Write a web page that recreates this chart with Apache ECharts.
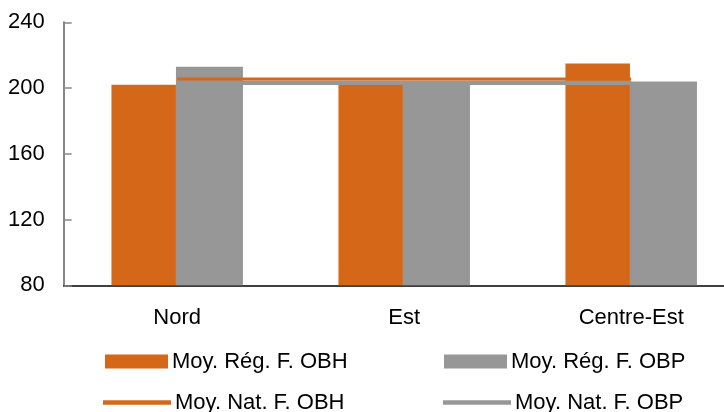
<!DOCTYPE html>
<html><head><meta charset="utf-8">
<script src="https://cdn.jsdelivr.net/npm/echarts@6/dist/echarts.min.js"></script>
<style>html,body{margin:0;padding:0;background:#fff;overflow:hidden}#c{width:760px;height:412px}</style>
</head><body><div id="c"></div>
<script>
const categories = ['Nord', 'Est', 'Centre-Est'];
const regOBH = [202, 203, 215];
const regOBP = [213, 203, 204];
const natOBH = [205.5, 205.5, 205.5];
const natOBP = [203.3, 203.3, 203.3];
const seriesNames = ['Moy. Rég. F. OBH', 'Moy. Rég. F. OBP', 'Moy. Nat. F. OBH', 'Moy. Nat. F. OBP'];
const yTicks = [80, 120, 160, 200, 240];

const ORANGE = '#D56818';
const GRAY = '#979797';
const FONT = 'Liberation Sans, Arial, sans-serif';
const txt = {fontFamily: FONT, fontSize: 22, color: '#000'};

function leg(name, left, top, isLine) {
  return {
    data: [name], left: left, top: top, orient: 'horizontal', padding: 0,
    icon: 'rect',
    itemWidth: isLine ? 68 : 63, itemHeight: isLine ? 4.5 : 14, itemGap: 0,
    textStyle: Object.assign({}, txt, {padding: [0, 0, 0, -1]}),
    selectedMode: false
  };
}

const chart = echarts.init(document.getElementById('c'), null, {renderer: 'canvas'});
chart.setOption({
  animation: false,
  backgroundColor: '#fff',
  grid: {left: 63.7, top: 22.3, bottom: 126.7, width: 681, containLabel: false},
  legend: [
    leg(seriesNames[0], 105, 350.5, false),
    leg(seriesNames[1], 444, 350.5, false),
    leg(seriesNames[2], 103, 391.5, true),
    leg(seriesNames[3], 443, 391.5, true)
  ],
  xAxis: {
    type: 'category', data: categories,
    axisLine: {lineStyle: {color: '#000', width: 1.5}},
    axisTick: {show: false},
    axisLabel: Object.assign({}, txt, {margin: 22}),
    splitLine: {show: false}
  },
  yAxis: {
    type: 'value', min: yTicks[0], max: yTicks[yTicks.length - 1], interval: 40,
    axisLine: {show: true, lineStyle: {color: '#868686', width: 2}},
    axisTick: {show: true, inside: true, length: 8, lineStyle: {color: '#868686', width: 1.5}},
    axisLabel: Object.assign({}, txt, {margin: 19}),
    splitLine: {show: false}
  },
  series: [
    {name: seriesNames[0], type: 'bar', data: regOBH, barWidth: 64.5, barGap: '0%', itemStyle: {color: ORANGE}, z: 2},
    {name: seriesNames[1], type: 'bar', data: regOBP, barWidth: 67, barGap: '0%', itemStyle: {color: GRAY}, z: 2},
    {name: seriesNames[2], type: 'line', data: natOBH, symbol: 'none', showSymbol: false, lineStyle: {color: ORANGE, width: 3}, itemStyle: {color: ORANGE}, z: 5},
    {name: seriesNames[3], type: 'line', data: natOBP, symbol: 'none', showSymbol: false, lineStyle: {color: GRAY, width: 4.5}, itemStyle: {color: GRAY}, z: 4}
  ]
});
</script>
</body></html>
